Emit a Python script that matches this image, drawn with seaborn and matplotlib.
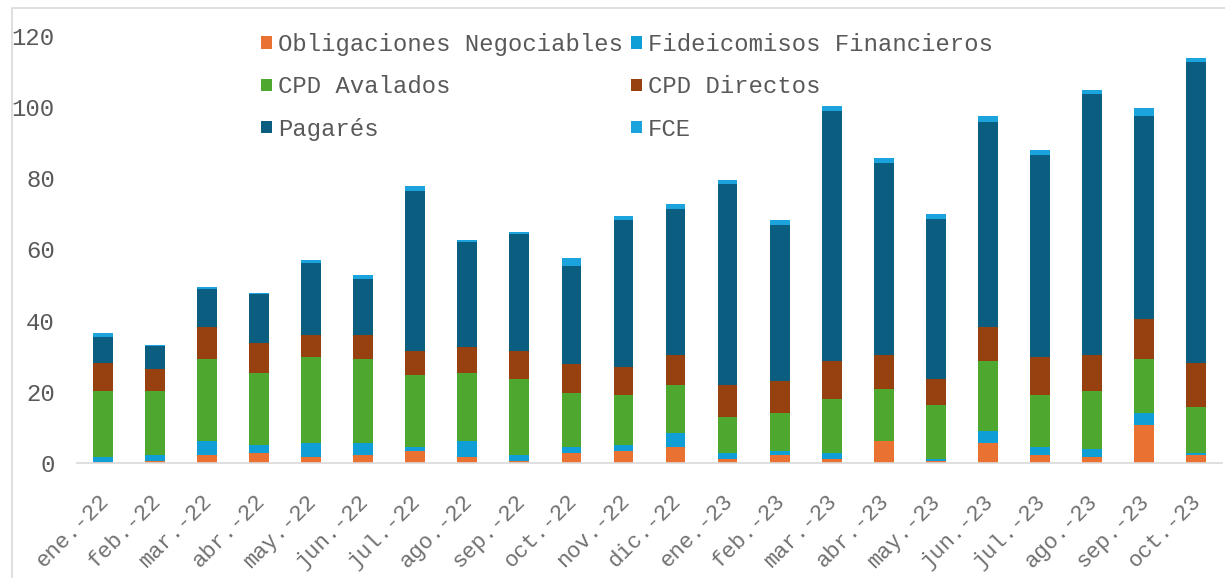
import numpy as np
import pandas as pd
import seaborn as sns
import matplotlib.pyplot as plt
from matplotlib.patches import Patch, Rectangle
from matplotlib.transforms import ScaledTranslation

# Data
months = ["ene.-22", "feb.-22", "mar.-22", "abr.-22", "may.-22", "jun.-22", "jul.-22",
          "ago.-22", "sep.-22", "oct.-22", "nov.-22", "dic.-22", "ene.-23", "feb.-23",
          "mar.-23", "abr.-23", "may.-23", "jun.-23", "jul.-23", "ago.-23", "sep.-23",
          "oct.-23"]
oblig_neg = [0.2, 0.7, 2.3, 2.9, 1.8, 2.3, 3.5, 1.8, 0.7, 2.9, 3.5, 4.6, 1.2, 2.3,
             1.2, 6.3, 0.7, 5.7, 2.3, 1.8, 10.8, 2.3]
fideicomisos = [1.6, 1.6, 4.0, 2.2, 3.9, 3.4, 1.1, 4.5, 1.6, 1.7, 1.6, 3.9, 1.7, 1.2,
                1.7, 0.0, 0.5, 3.4, 2.3, 2.2, 3.3, 0.6]
cpd_avalados = [18.5, 18.0, 23.0, 20.3, 24.2, 23.6, 20.2, 19.1, 21.4, 15.2, 14.1, 13.5,
                10.1, 10.6, 15.2, 14.6, 15.2, 19.6, 14.6, 16.3, 15.2, 12.9]
cpd_directos = [7.9, 6.2, 9.0, 8.4, 6.1, 6.7, 6.7, 7.3, 7.8, 7.9, 7.9, 8.4, 9.0, 9.0,
                10.6, 9.5, 7.3, 9.6, 10.7, 10.1, 11.2, 12.4]
pagares = [7.3, 6.4, 10.7, 13.7, 20.3, 15.8, 45.0, 29.4, 32.8, 27.6, 41.1, 41.1, 56.3,
           43.9, 70.3, 54.0, 44.9, 57.5, 56.7, 73.3, 57.0, 84.4]
fce = [1.1, 0.4, 0.5, 0.3, 0.7, 1.1, 1.3, 0.5, 0.6, 2.2, 1.1, 1.3, 1.1, 1.2,
       1.3, 1.3, 1.3, 1.7, 1.3, 1.1, 2.2, 1.1]

series_names = ["Obligaciones Negociables", "Fideicomisos Financieros", "CPD Avalados",
                "CPD Directos", "Pagarés", "FCE"]
colors = ["#E97132", "#0F9ED5", "#4EA72E", "#974010", "#0C5E80", "#1AA3DC"]

df = pd.DataFrame({"mes": months,
                   series_names[0]: oblig_neg, series_names[1]: fideicomisos,
                   series_names[2]: cpd_avalados, series_names[3]: cpd_directos,
                   series_names[4]: pagares, series_names[5]: fce})
cum = df[series_names].cumsum(axis=1)
cum["mes"] = df["mes"]

sns.set_theme(style="white")
plt.rcParams["font.family"] = ["Liberation Mono", "DejaVu Sans"]
fs = 17.2

fig = plt.figure(figsize=(12.25, 5.78), dpi=100)
ax = fig.add_axes([77 / 1225, 115 / 578, 1145 / 1225, 427 / 578])

# stacked bars: draw cumulative totals from the top series down
for name, col in zip(reversed(series_names), reversed(colors)):
    sns.barplot(data=cum, x="mes", y=name, order=months, color=col, width=0.38,
                linewidth=0, saturation=1, ax=ax)

ax.set_ylim(0, 120)
ax.set_xlim(-0.5, len(months) - 0.5)
ax.set_yticks(np.arange(0, 121, 20))
ax.set_xlabel("")
ax.set_ylabel("")

for s in ["top", "left", "right"]:
    ax.spines[s].set_visible(False)
ax.spines["bottom"].set_color("#d9d9d9")
ax.spines["bottom"].set_linewidth(1.2)

ax.set_xticks(np.arange(-0.5, len(months), 1), minor=True)
ax.tick_params(axis="x", which="minor", length=6, width=1.2, color="#d9d9d9",
               direction="out")
ax.tick_params(axis="x", which="major", length=0, pad=20, labelsize=16,
               labelcolor="#707070")
ax.tick_params(axis="y", length=0, pad=16, labelsize=fs, labelcolor="#595959")
shift = ScaledTranslation(-5 / 100, 0, fig.dpi_scale_trans)
for lab in ax.get_xticklabels():
    lab.set_rotation(45)
    lab.set_ha("right")
    lab.set_rotation_mode("anchor")
    lab.set_transform(lab.get_transform() + shift)

# legend, filled column-wise to get the row order of the reference
order = [0, 2, 4, 1, 3, 5]
handles = [Patch(facecolor=colors[i], edgecolor="none", label=series_names[i]) for i in order]
fig.legend(handles=handles, ncol=2, loc="upper left", bbox_to_anchor=(249 / 1225, 0.963),
           frameon=False, fontsize=fs, handlelength=0.45, handleheight=0.45,
           handletextpad=0.25, columnspacing=0.35, labelspacing=0.8, borderpad=0,
           labelcolor="#595959")

# light outer border
fig.patches.append(Rectangle((12 / 1225, -0.1), 1.2, (578 - 8) / 578 + 0.1,
                             transform=fig.transFigure, fill=False,
                             edgecolor="#d9d9d9", linewidth=1.2))

fig.savefig("out.png", dpi=100, facecolor="white")
